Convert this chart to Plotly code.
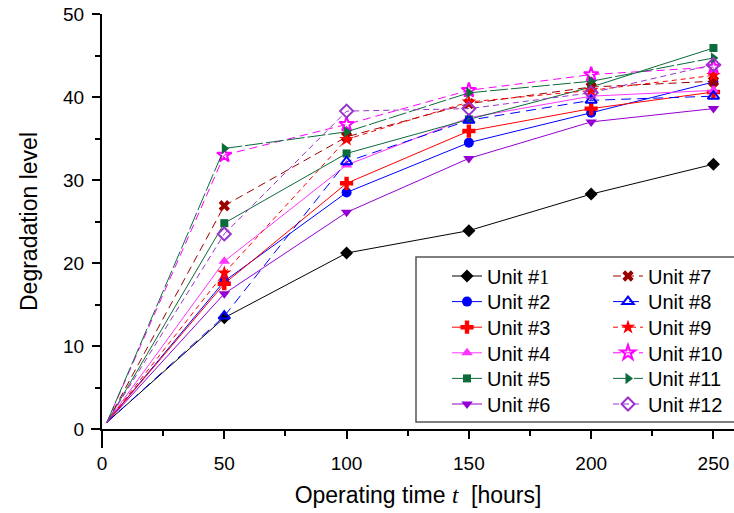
import plotly.graph_objects as go

# ---- data ----
T = [50, 100, 150, 200, 250]
START_T = 2
START_LEVEL = 0.8

unit1 = [13.4, 21.2, 23.9, 28.3, 31.9]
unit2 = [17.8, 28.5, 34.5, 38.1, 41.8]
unit3 = [17.5, 29.6, 35.9, 38.6, 40.6]
unit4 = [20.2, 31.8, 37.5, 40.1, 40.8]
unit5 = [24.8, 33.2, 37.3, 41.2, 45.9]
unit6 = [16.3, 26.1, 32.6, 37.0, 38.6]
unit7 = [26.9, 35.2, 39.2, 41.2, 41.9]
unit8 = [13.6, 32.2, 37.2, 39.6, 40.1]
unit9 = [18.8, 34.9, 39.4, 40.8, 42.6]
unit10 = [33.0, 36.7, 40.8, 42.7, 43.6]
unit11 = [33.8, 35.8, 40.5, 41.9, 44.7]
unit12 = [23.5, 38.3, 38.6, 40.5, 43.9]

names = ["Unit #<span style='font-family:Liberation Serif'>1</span>", "Unit #2", "Unit #3",
         "Unit #4", "Unit #5", "Unit #6", "Unit #7", "Unit #8", "Unit #9",
         "Unit #10", "Unit #11", "Unit #12"]
series = [unit1, unit2, unit3, unit4, unit5, unit6,
          unit7, unit8, unit9, unit10, unit11, unit12]

# ---- styles ----
styles = [
    dict(color="#000000", dash="solid", symbol="diamond", size=10, lw=0),
    dict(color="#0000ff", dash="solid", symbol="circle", size=10, lw=0),
    dict(color="#ff0000", dash="solid", symbol="cross", size=11, lw=0),
    dict(color="#ff33ff", dash="solid", symbol="triangle-up", size=10, lw=0),
    dict(color="#0b6b3a", dash="solid", symbol="square", size=8, lw=0),
    dict(color="#9400d3", dash="solid", symbol="triangle-down", size=10, lw=0),
    dict(color="#9a0000", dash="8px,5px", symbol="x", size=10, lw=0),
    dict(color="#0000ff", dash="10px,6px", symbol="triangle-up-open", size=10, lw=2),
    dict(color="#ff0000", dash="5px,4px", symbol="star", size=11, lw=0),
    dict(color="#ff00ff", dash="8px,5px", symbol="star-open", size=11, lw=2),
    dict(color="#0b6b3a", dash="18px,3px", symbol="triangle-right", size=10, lw=0),
    dict(color="#9933cc", dash="6px,4px", symbol="diamond-open", size=10, lw=2),
]

FONT = "Liberation Sans, Arial, sans-serif"

W, H = 734, 513
ML, MR, MT, MB = 102, 0, 14, 84
pw = W - ML - MR
ph = H - MT - MB

def px_x(p):
    return (p - ML) / pw

def px_y(p):
    return (H - MB - p) / ph

fig = go.Figure()
legend_layout = {}
for i, (nm, ys, st) in enumerate(zip(names, series, styles)):
    key = "legend" if i == 0 else f"legend{i + 1}"
    col, row = divmod(i, 6)
    legend_layout[key] = dict(
        x=px_x(447 if col == 0 else 608), y=px_y(276 + row * 25.6),
        xanchor="left", yanchor="middle",
        bgcolor="rgba(0,0,0,0)", borderwidth=0,
        font=dict(size=20, family=FONT))
    # segment from the common start to the first measurement
    fig.add_trace(go.Scatter(
        x=[START_T, T[0]], y=[START_LEVEL, ys[0]], mode="lines",
        line=dict(color=st["color"], width=1, dash=st["dash"]),
        showlegend=False, hoverinfo="skip", legend=key))
    fig.add_trace(go.Scatter(
        x=T, y=ys, mode="lines+markers", name=nm, legend=key,
        line=dict(color=st["color"], width=1, dash=st["dash"]),
        marker=dict(symbol=st["symbol"], size=st["size"], color=st["color"],
                    line=dict(color=st["color"], width=st["lw"]))))

fig.update_layout(
    width=W, height=H,
    margin=dict(l=ML, r=MR, t=MT, b=MB, pad=0, autoexpand=False),
    paper_bgcolor="white", plot_bgcolor="white",
    font=dict(family=FONT, size=19, color="black"),
    xaxis=dict(range=[0, 258.4], tickvals=[0, 50, 100, 150, 200, 250],
               showline=True, linecolor="black", linewidth=2,
               ticks="outside", ticklen=8, tickwidth=1.5, tickcolor="black",
               minor=dict(ticks="outside", ticklen=5, tickwidth=1.5,
                          tickcolor="black", dtick=25, showgrid=False),
               showgrid=False, zeroline=False, automargin=False,
               tickfont=dict(size=19), ticklabelstandoff=8,
               title=dict(text="Operating time <i><span style='font-family:Liberation Serif'>t</span></i>  [hours]",
                          font=dict(size=23), standoff=14)),
    yaxis=dict(range=[0, 50], tickvals=[0, 10, 20, 30, 40, 50],
               showline=True, linecolor="black", linewidth=2,
               ticks="outside", ticklen=8, tickwidth=1.5, tickcolor="black",
               minor=dict(ticks="outside", ticklen=5, tickwidth=1.5,
                          tickcolor="black", dtick=5, showgrid=False),
               showgrid=False, zeroline=False, automargin=False,
               tickfont=dict(size=19), ticklabelstandoff=4,
               title=dict(text="Degradation level", font=dict(size=23), standoff=19)),
    shapes=[
        # legend frame
        dict(type="rect", xref="paper", yref="paper",
             x0=px_x(416), x1=px_x(742), y0=px_y(422), y1=px_y(257),
             line=dict(color="#555555", width=1.5), fillcolor="white", layer="above"),
        # axis overhangs
        dict(type="line", xref="paper", yref="paper",
             x0=px_x(91), x1=0, y0=0, y1=0,
             line=dict(color="black", width=2)),
        dict(type="line", xref="paper", yref="paper",
             x0=0, x1=0, y0=px_y(448), y1=0,
             line=dict(color="black", width=2)),
    ],
    **legend_layout,
)

fig.write_html("out.html", config={"displayModeBar": False},
               post_script="document.body.style.margin='0';")
